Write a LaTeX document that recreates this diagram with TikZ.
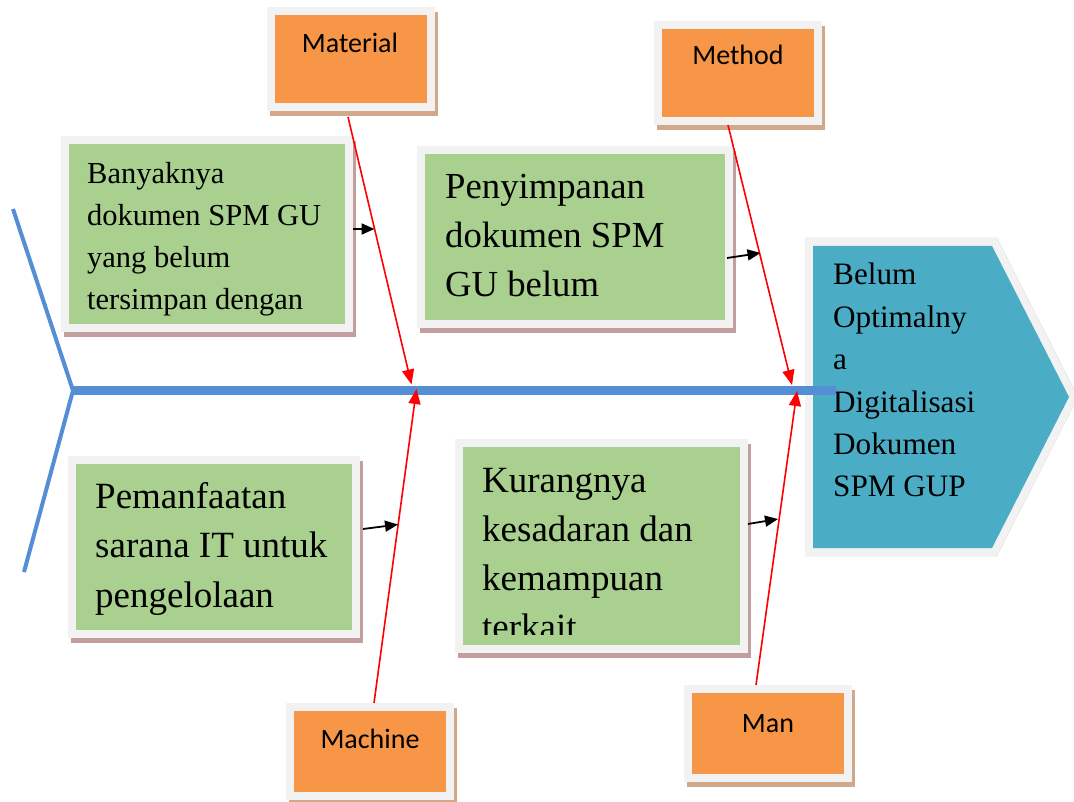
\documentclass[tikz,border=0pt]{standalone}
\usepackage{fontspec}
\setmainfont{Liberation Serif}
\newfontfamily\calibri{Carlito}
\usetikzlibrary{arrows.meta,calc}
\definecolor{oran}{HTML}{F79646}
\definecolor{grn}{HTML}{A9D08E}
\definecolor{teal2}{HTML}{4BACC6}
\definecolor{frame}{HTML}{F2F2F2}
\definecolor{spine}{HTML}{558ED5}
\definecolor{osh}{HTML}{D1A98A}
\definecolor{gsh}{HTML}{C39E9E}
\definecolor{tsh}{HTML}{9DB0B6}
\newcommand\stacklines[1]{\vtop{\halign{##\hfil\cr#1\crcr}}}
\begin{document}
\begin{tikzpicture}[x=1pt,y=-1pt,
  boxbase/.style={rectangle, inner sep=0pt, outer sep=0pt, draw=frame, line width=8pt, line join=miter},
  obox/.style={boxbase, fill=oran, preaction={draw=osh, fill=osh, line width=8pt, transform canvas={shift={(3,5)}}}},
  gbox/.style={boxbase, fill=grn, preaction={draw=gsh, fill=gsh, line width=8pt, transform canvas={shift={(3,5)}}}},
  otext/.style={anchor=base, inner sep=0pt, font=\calibri\fontsize{28}{28}\selectfont},
  gtext/.style={anchor=base west, inner sep=0pt},
  redarr/.style={draw=red, line width=1.6pt, -{Triangle[length=15pt,width=12pt]}},
  blkarr/.style={draw=black, line width=1.8pt, -{Triangle[length=13pt,width=11pt]}},
  spineline/.style={draw=spine, line width=9pt},
  tailline/.style={draw=spine, line width=4pt, line join=miter}
]
\useasboundingbox (0,0) rectangle (1074,802);

% effect (pentagon)
\coordinate (p1) at (813,246);
\coordinate (p2) at (992,246);
\coordinate (p3) at (1069,397);
\coordinate (p4) at (992,548);
\coordinate (p5) at (813,548);
\filldraw[tsh, line width=16pt, line join=miter, shift={(4,6)}] (p1) -- (p2) -- (p3) -- (p4) -- (p5) -- cycle;
\draw[frame, line width=16pt, line join=miter] (p1) -- (p2) -- (p3) -- (p4) -- (p5) -- cycle;
\fill[teal2] (p1) -- (p2) -- (p3) -- (p4) -- (p5) -- cycle;
\node[gtext, font=\fontsize{31.2}{42.4}\selectfont] (efft) at (833,285)
  {\stacklines{Belum\cr Optimalny\cr a\cr Digitalisasi\cr Dokumen\cr SPM GUP}};

% category boxes
\node[obox, minimum width=160pt, minimum height=96pt] (material) at (351,59) {};
\node[obox, minimum width=160pt, minimum height=96pt] (method) at (738,73) {};
\node[obox, minimum width=160pt, minimum height=89pt] (machine) at (370,751.5) {};
\node[obox, minimum width=160pt, minimum height=89pt] (man) at (768,733.5) {};
\node[otext] (materialt) at (350,53) {Material};
\node[otext] (methodt) at (738,65) {Method};
\node[otext] (machinet) at (370,748) {Machine};
\node[otext] (mant) at (768,732) {Man};

% cause boxes
\node[gbox, minimum width=284pt, minimum height=188pt] (b1) at (206.5,234) {};
\node[gbox, minimum width=307.5pt, minimum height=174pt] (b2) at (574.75,237) {};
\node[gbox, minimum width=284pt, minimum height=173.5pt] (b3) at (214,546.75) {};
\node[gbox, minimum width=285pt, minimum height=206pt] (b4) at (601.5,546) {};

\node[gtext, font=\fontsize{30.5}{41.7}\selectfont] (b1t) at (87,184)
  {\stacklines{Banyaknya\cr dokumen SPM GU\cr yang belum\cr tersimpan dengan}};
\node[gtext, font=\fontsize{36.7}{49}\selectfont] (b2t) at (445,199)
  {\stacklines{Penyimpanan\cr dokumen SPM\cr GU belum}};
\node[gtext, font=\fontsize{37}{49.5}\selectfont] (b3t) at (95,508)
  {\stacklines{Pemanfaatan\cr sarana IT untuk\cr pengelolaan}};
\begin{scope}
  \clip (463,447) rectangle (740,634);
  \node[gtext, font=\fontsize{37}{49}\selectfont] (b4t) at (482,492)
    {\stacklines{Kurangnya\cr kesadaran dan\cr kemampuan\cr terkait}};
\end{scope}

% fish spine and tail
\coordinate (tailtop) at (13,209);
\coordinate (joint) at (73,390.5);
\coordinate (tailbot) at (24,572);
\coordinate (head) at (836,390.5);
\draw[tailline] (tailtop) -- (joint) -- (tailbot);
\draw[spineline] (joint) -- (head);

% bones
\coordinate (m1) at (348,117);
\coordinate (s1) at (411.5,384.5);
\coordinate (m2) at (374,703);
\coordinate (s2) at (416.5,389);
\coordinate (m3) at (728,125);
\coordinate (s3) at (792,385);
\coordinate (m4) at (756,685);
\coordinate (s4) at (797,391);
\draw[redarr] (m1) -- (s1);
\draw[redarr] (m2) -- (s2);
\draw[redarr] (m3) -- (s3);
\draw[redarr] (m4) -- (s4);

% cause arrows
\coordinate (a1s) at (353,229);
\coordinate (a1t) at (374.5,229);
\coordinate (a2s) at (727,258);
\coordinate (a2t) at (760.5,253);
\coordinate (a3s) at (363,529);
\coordinate (a3t) at (398,524.5);
\coordinate (a4s) at (748,524);
\coordinate (a4t) at (778,519);
\draw[blkarr] (a1s) -- (a1t);
\draw[blkarr] (a2s) -- (a2t);
\draw[blkarr] (a3s) -- (a3t);
\draw[blkarr] (a4s) -- (a4t);
\end{tikzpicture}
\end{document}
